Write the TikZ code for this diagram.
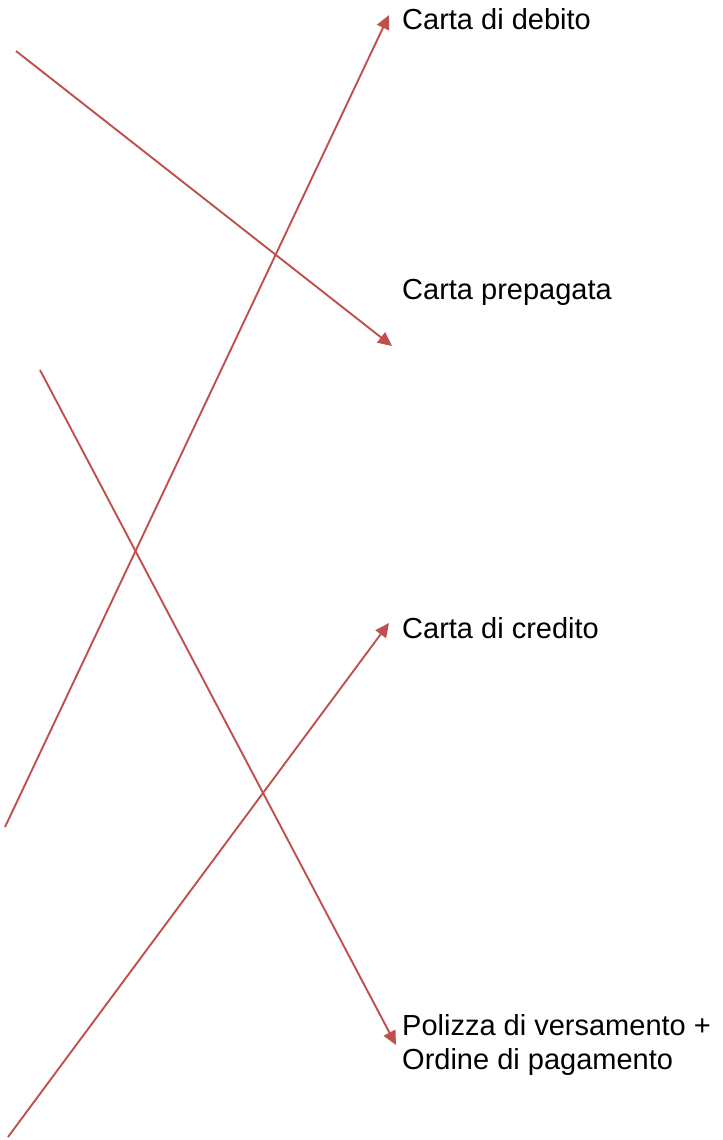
\documentclass[tikz,border=0pt]{standalone}
\usepackage{fontspec}
\setmainfont{Liberation Sans}
\usetikzlibrary{arrows.meta}

\definecolor{arrowred}{RGB}{192,80,77}

\begin{document}
\begin{tikzpicture}[x=1bp, y=-1bp,
    link/.style={draw=arrowred, line width=1.9bp, -{Triangle[length=14bp,width=13bp]}},
    label/.style={anchor=base west, inner sep=0pt, font=\fontsize{29bp}{34.5bp}\selectfont, align=left}]
    \useasboundingbox (0,0) rectangle (723,1140);

    \coordinate (S0) at (16,51);
    \coordinate (S1) at (40,370);
    \coordinate (S2) at (5,827);
    \coordinate (S3) at (8,1137);
    \coordinate (T0) at (392,346);
    \coordinate (T1) at (396,1045);
    \coordinate (T2) at (389,15);
    \coordinate (T3) at (389,623);

    \node [label] (debito) at (402,29) {Carta di debito};
    \node [label] (prepagata) at (402,299) {Carta prepagata};
    \node [label] (credito) at (402,638) {Carta di credito};
    \node [label, anchor=north west] (polizza) at (402,1014) {Polizza di versamento +\\Ordine di pagamento};

    \draw [link] (S0) -- (T0);
    \draw [link] (S1) -- (T1);
    \draw [link] (S2) -- (T2);
    \draw [link] (S3) -- (T3);
  \end{tikzpicture}
\end{document}
